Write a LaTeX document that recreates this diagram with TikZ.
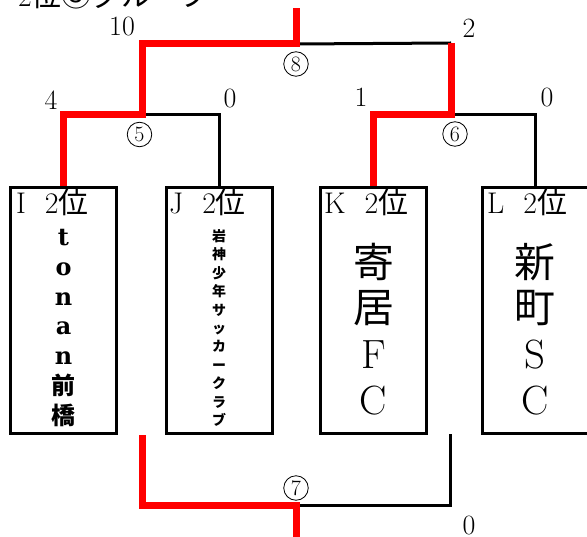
\documentclass[tikz,border=0pt]{standalone}
\usepackage{fontspec}
\newfontfamily\jp{Noto Sans CJK JP}
\newfontfamily\slab{DejaVu Serif}
\begin{document}
\begin{tikzpicture}[x=1bp,y=-1bp,
 team/.style={draw,line width=3bp,minimum width=106bp,minimum height=246bp,inner sep=0},
 win/.style={draw=red,line width=7bp,line join=miter},
 lose/.style={draw=black,line width=3bp},
 score/.style={font={\fontsize{28}{28}\selectfont},inner sep=0},
 match/.style={circle,draw,line width=0.8bp,minimum size=24.5bp,inner sep=0,font={\fontsize{22}{22}\selectfont}},
 head/.style={font={\fontsize{30}{30}\selectfont},inner sep=0,anchor=base west},
 tname/.style={inner sep=0,align=center},
]
\useasboundingbox (0,0) rectangle (587,537);
% title (clipped at the top)
\node[head] (title) at (18,7) {2{\jp 位③グループ}};
% team boxes
\node[team] (I) at (63.5,310.5) {};
\node[team] (J) at (219,310.5) {};
\node[team] (K) at (373.5,310.5) {};
\node[team] (L) at (535,310.5) {};
% headers
\node[head] (hI) at (16,214) {I\hspace{19bp}2{\jp 位}};
\node[head] (hJ) at (169,214) {J\hspace{19bp}2{\jp 位}};
\node[head] (hK) at (324,214) {K\hspace{19bp}2{\jp 位}};
\node[head] (hL) at (487,214) {L\hspace{19bp}2{\jp 位}};
% names
\node[tname,font={\fontsize{24}{30}\selectfont}] (nI) at (63.5,328)
 {{\slab\bfseries t}\\{\slab\bfseries o}\\{\slab\bfseries n}\\{\slab\bfseries a}\\{\slab\bfseries n}\\{\jp\bfseries 前}\\{\jp\bfseries 橋}};
\node[tname,font={\jp\bfseries\fontsize{14}{18.5}\selectfont}] (nJ) at (219,328)
 {岩\\神\\少\\年\\サ\\ッ\\カ\\ー\\ク\\ラ\\ブ};
\node[tname,font={\fontsize{41}{46}\selectfont}] (nK) at (373.5,329)
 {{\jp 寄}\\{\jp 居}\\F\\C};
\node[tname,font={\fontsize{41}{46}\selectfont}] (nL) at (535,329)
 {{\jp 新}\\{\jp 町}\\S\\C};
% junctions
\coordinate (m5) at (142,115);
\coordinate (m8) at (296,44);
\coordinate (top) at (296,8);
\coordinate (r8) at (451,43);
\coordinate (m6) at (451,115);
\coordinate (b1) at (142,435);
\coordinate (m7) at (296,505);
\coordinate (bot) at (296,540);
\coordinate (b2) at (450,434);
% black lines
\draw[lose] (m5) -| (J.north);
\draw[lose] (m8) -- (r8);
\draw[lose] (m6) -| (L.north);
\draw[lose] (m7) -| (b2);
% red lines
\draw[win] (I.north) |- (m5) |- (m8) -- (top);
\draw[win] (r8) -- (m6) -| (K.north);
\draw[win] (b1) |- (m7) -- (bot);
% match numbers
\node[match] (c5) at (139.5,134.5) {5};
\node[match] (c8) at (296,64) {8};
\node[match] (c6) at (455,134) {6};
\node[match] (c7) at (296,488) {7};
% scores
\node[score] (s10) at (122,27) {10};
\node[score] (s2) at (469,28) {2};
\node[score] (s4) at (51,100) {4};
\node[score] (s0a) at (230,99) {0};
\node[score] (s1) at (361,97) {1};
\node[score] (s0b) at (547,98) {0};
\node[score] (s0c) at (469,525) {0};
\end{tikzpicture}
\end{document}
